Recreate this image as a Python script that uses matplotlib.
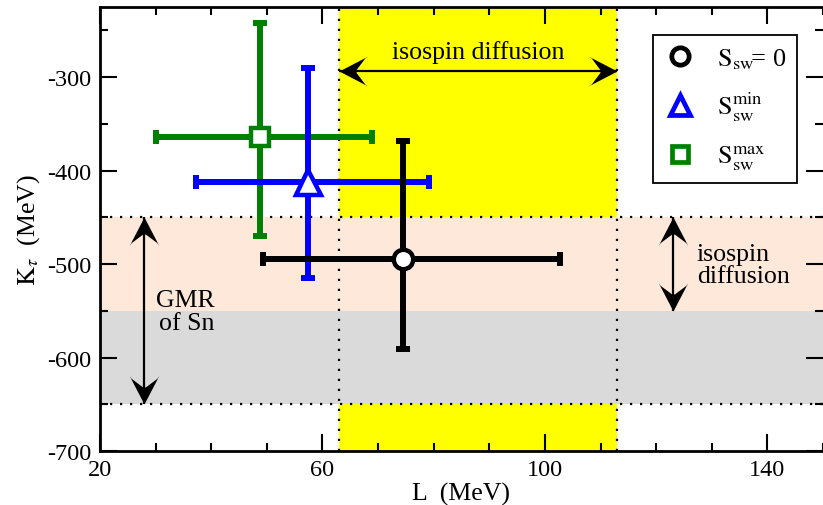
import numpy as np
import matplotlib
matplotlib.use("Agg")
import matplotlib.pyplot as plt
from matplotlib.path import Path
from matplotlib.lines import Line2D

plt.rcParams['font.family'] = ['Liberation Serif', 'DejaVu Serif']
plt.rcParams['mathtext.fontset'] = 'stix'
plt.rcParams['axes.unicode_minus'] = False

# ---- data ----
series_labels = [r'$\mathrm{S}_{\mathrm{sw}}\!$= 0',
                 r'$\mathrm{S}_{\mathrm{sw}}^{\mathrm{min}}$',
                 r'$\mathrm{S}_{\mathrm{sw}}^{\mathrm{max}}$']
L_vals = [74.4, 57.4, 48.8]
L_err_lo = [25.1, 20.2, 18.8]
L_err_hi = [28.4, 21.8, 20.1]
K_vals = [-495.0, -412.5, -364.5]
K_err_lo = [96.0, 102.0, 105.0]
K_err_hi = [127.0, 122.0, 122.0]
colors = ['black', '#0000ff', '#008000']
markers = ['o', '^', 's']

diff_L = [63, 113]          # isospin diffusion range in L
diff_K = [-450, -550]       # isospin diffusion range in K_tau
gmr_K = [-450, -650]        # GMR of Sn range in K_tau

xticks = [20, 60, 100, 140]
yticks = [-700, -600, -500, -400, -300]

FS = 18.6

fig = plt.figure(figsize=(8.23, 5.06), dpi=100)
ax = fig.add_axes([100/823, 1-452/506, 723/823, 444/506])
ax.set_xlim(20, 150)
ax.set_ylim(-700, -225)

# bands
ax.axvspan(diff_L[0], diff_L[1], color='#ffff00', zorder=0, lw=0)
ax.axhspan(diff_K[0], diff_K[1], color='#fde8da', zorder=0.5, lw=0)
ax.axhspan(diff_K[1], gmr_K[1], color='#dadada', zorder=0.5, lw=0)
for xv in diff_L:
    ax.axvline(xv, color='black', ls=(0, (1, 3.5)), lw=1.6, zorder=1)
for yv in gmr_K:
    ax.axhline(yv, color='black', ls=(0, (1, 3.5)), lw=1.6, zorder=1)

# error bars: draw green, blue, black (black on top)
for i in [2, 1, 0]:
    ax.errorbar([L_vals[i]], [K_vals[i]],
                xerr=[[L_err_lo[i]], [L_err_hi[i]]],
                yerr=[[K_err_lo[i]], [K_err_hi[i]]],
                fmt='none', ecolor=colors[i], elinewidth=4.3,
                capsize=4.8, capthick=4.3, zorder=3 + (2 - i))
    ms = {'o': 14, '^': 18, 's': 13}[markers[i]]
    ax.plot([L_vals[i]], [K_vals[i]], marker=markers[i], ms=ms,
            mfc='white', mec=colors[i], mew=3.2, ls='none',
            zorder=3.5 + (2 - i))

# arrow heads as path markers
def head(angle_deg):
    verts = np.array([(0, 0), (-1, 0.52), (-0.9, 0.45), (-0.6, 0.05), (-0.6, -0.05),
                      (-0.9, -0.45), (-1, -0.52), (0, 0)])
    codes = [Path.MOVETO] + [Path.LINETO] * 6 + [Path.CLOSEPOLY]
    a = np.deg2rad(angle_deg)
    R = np.array([[np.cos(a), -np.sin(a)], [np.sin(a), np.cos(a)]])
    return Path(verts @ R.T, codes)

def darrow(x0, y0, x1, y1, ang0, ang1):
    ax.plot([x0, x1], [y0, y1], color='black', lw=1.6, zorder=2,
            solid_capstyle='butt')
    ax.plot([x0], [y0], marker=head(ang0), ms=41, color='black', mew=0,
            ls='none', zorder=2)
    ax.plot([x1], [y1], marker=head(ang1), ms=41, color='black', mew=0,
            ls='none', zorder=2)

darrow(diff_L[0], -294, diff_L[1], -294, 180, 0)
darrow(123, diff_K[0], 123, diff_K[1], 90, -90)
darrow(28, gmr_K[0], 28, gmr_K[1], 90, -90)

ax.text(88, -273, 'isospin diffusion', ha='center', va='center', fontsize=FS,
        zorder=2)
ax.text(127.3, -501, 'isospin\ndiffusion', ha='left', va='center',
        fontsize=FS, linespacing=1.0, zorder=2)
ax.text(40.6, -551, 'GMR\nof Sn', ha='right', va='center', fontsize=FS,
        linespacing=1.05, multialignment='right', zorder=2)

# legend
handles = [Line2D([], [], marker=m, ls='none', mfc='white', mec=c, mew=3.4,
                  ms={'o': 12.5, '^': 14.5, 's': 11.5}[m])
           for m, c in zip(markers, colors)]
leg = ax.legend(handles, series_labels, loc='upper left',
                bbox_to_anchor=(653/823, 1-36/506),
                bbox_transform=fig.transFigure, fontsize=19,
                frameon=True, fancybox=False, framealpha=1,
                edgecolor='black', handlelength=1.2, handletextpad=0.8,
                labelspacing=0.72, borderpad=0.42, borderaxespad=0)
leg.get_frame().set_linewidth(1.3)
leg.set_zorder(10)

# axes styling
ax.set_xticks(xticks)
ax.set_yticks(yticks)
ax.set_xticks([v for v in range(30, 151, 10) if v not in xticks], minor=True)
ax.set_yticks(np.arange(-650, -224, 50), minor=True)
ax.tick_params(which='both', direction='in', top=True, right=True,
               labelsize=17.5, width=1.5, pad=6)
ax.tick_params(which='major', length=12)
ax.tick_params(which='minor', length=6)
for s in ['left', 'bottom', 'top']:
    ax.spines[s].set_linewidth(2)
ax.spines['right'].set_visible(False)

ax.set_xlabel('L  (MeV)', fontsize=FS, labelpad=1)
ax.set_ylabel(r'$\mathrm{K}_{\tau}$  (MeV)', fontsize=FS, labelpad=4)

fig.savefig('out.png', dpi=100)
